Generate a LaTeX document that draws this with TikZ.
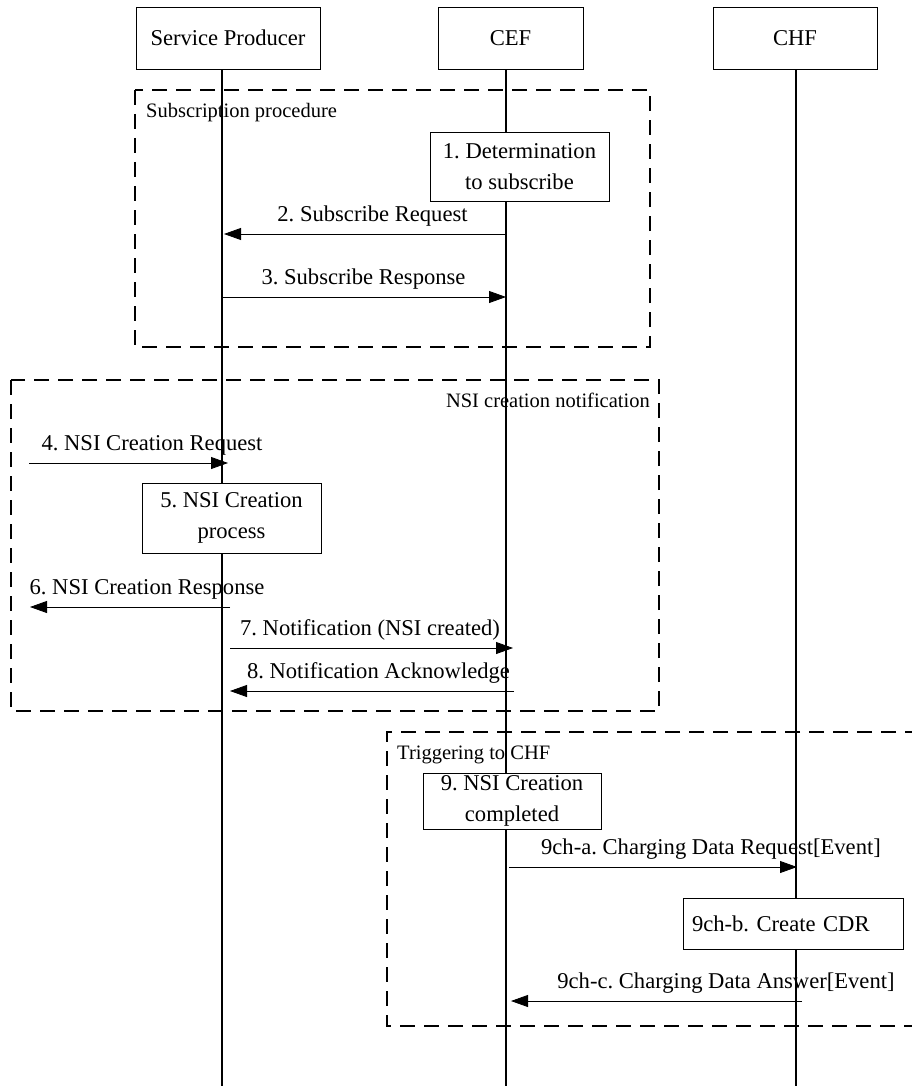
\documentclass[tikz,border=0pt]{standalone}
\usepackage{fontspec}
\setmainfont{Liberation Serif}
\usetikzlibrary{calc}
\usetikzlibrary{arrows.meta}
\newcommand{\msgfont}{\fontsize{22.6pt}{31pt}\selectfont\frenchspacing}
\newcommand{\framefont}{\fontsize{20.5pt}{24pt}\selectfont\frenchspacing}

\begin{document}
\begin{tikzpicture}[x=1pt, y=-1pt,
  entity/.style={draw, line width=0.9pt, fill=white, inner sep=0pt, align=center, font=\msgfont},
  lifeline/.style={line width=1.2pt},
  frame/.style={line width=2.2pt, dash pattern=on 15pt off 9pt},
  msg/.style={line width=0.8pt, -{Triangle[length=17pt, width=12pt]}},
  msglabel/.style={anchor=base, font=\msgfont, inner sep=0pt},
  framelabel/.style={font=\framefont, inner sep=0pt}]
  \useasboundingbox (0,0) rectangle (912,1086);
  \draw[frame] (135,90) rectangle (650,347);
  \draw[frame] (11,380) rectangle (659,711);
  \draw[frame] (920,732) -- (387,732) -- (387,1026) -- (920,1026);
  \node[framelabel, anchor=base west, name=t1] at (146,118) {Subscription procedure};
  \node[framelabel, anchor=base east, name=t2] at (650,407) {NSI creation notification};
  \node[framelabel, anchor=base west, name=t3] at (397,759) {Triggering to CHF};
  \node[entity, name=sp, minimum width=184pt, minimum height=62pt] at (228,38) {Service Producer};
  \node[entity, name=cef, minimum width=145pt, minimum height=62pt] at (510.5,38) {CEF};
  \node[entity, name=chf, minimum width=164pt, minimum height=62pt] at (795,38) {CHF};
  \coordinate (spl) at ($(sp.south)+(-6,0)$);
  \coordinate (cefl) at ($(cef.south)+(-4.5,0)$);
  \coordinate (chfl) at ($(chf.south)+(1,0)$);
  \coordinate (bottom) at (0,1086);
  \draw[lifeline] (spl) -- (spl |- bottom);
  \draw[lifeline] (cefl) -- (cefl |- bottom);
  \draw[lifeline] (chfl) -- (chfl |- bottom);
  \node[entity, name=det, minimum width=179pt, minimum height=69pt] at (519.5,166.5) {1. Determination\\to subscribe};
  \node[entity, name=proc, minimum width=179pt, minimum height=70pt] at (231.5,518) {5. NSI Creation\\process};
  \node[entity, name=done, minimum width=178pt, minimum height=56pt] at (512,801) {9. NSI Creation\\completed};
  \node[entity, name=cdr, text width=202pt, align=left, minimum width=220pt, minimum height=51pt] at (793,923.5) {9ch-b. Create CDR};
  \coordinate (y2) at (0,234);
  \coordinate (y3) at (0,297);
  \coordinate (y4) at (0,463);
  \coordinate (y6) at (0,607);
  \coordinate (y7) at (0,648);
  \coordinate (y8) at (0,691);
  \coordinate (y9a) at (0,867);
  \coordinate (y9c) at (0,1001);
  \coordinate (src4) at (29,463);
  \coordinate (dst6) at (30,607);
  \draw[msg] (cefl |- y2) -- ($(spl |- y2)+(2,0)$);
  \draw[msg] (spl |- y3) -- (cefl |- y3);
  \draw[msg] (src4) -- ($(spl |- y4)+(6,0)$);
  \draw[msg] ($(spl |- y6)+(8,0)$) -- (dst6);
  \draw[msg] ($(spl |- y7)+(8,0)$) -- ($(cefl |- y7)+(7,0)$);
  \draw[msg] ($(cefl |- y8)+(8,0)$) -- ($(spl |- y8)+(8,0)$);
  \draw[msg] ($(cefl |- y9a)+(3,0)$) -- ($(chfl |- y9a)+(1,0)$);
  \draw[msg] ($(chfl |- y9c)+(6,0)$) -- ($(cefl |- y9c)+(5,0)$);
  \node[msglabel, name=l2] at (372.5,221) {2. Subscribe Request};
  \node[msglabel, name=l3] at (363.5,284) {3. Subscribe Response};
  \node[msglabel, name=l4] at (152,450) {4. NSI Creation Request};
  \node[msglabel, name=l6] at (147,594) {6. NSI Creation Response};
  \node[msglabel, name=l7] at (370,635) {7. Notification (NSI created)};
  \node[msglabel, name=l8] at (378.5,678) {8. Notification Acknowledge};
  \node[msglabel, name=l9a] at (711,854) {9ch-a. Charging Data Request[Event]};
  \node[msglabel, name=l9c] at (726,988) {9ch-c. Charging Data Answer[Event]};
\end{tikzpicture}
\end{document}
